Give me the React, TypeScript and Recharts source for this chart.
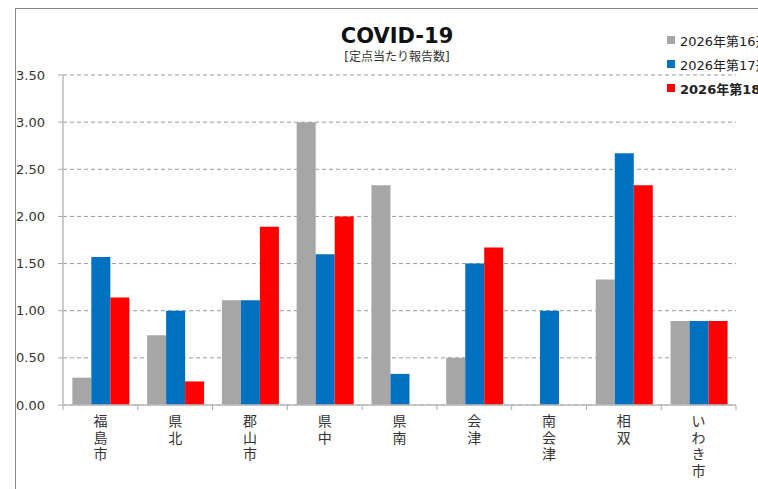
import React from 'react';
import { BarChart, Bar, XAxis, YAxis, CartesianGrid } from 'recharts';

const categories = ['福島市', '県北', '郡山市', '県中', '県南', '会津', '南会津', '相双', 'いわき市'];
const week16 = [0.29, 0.74, 1.11, 3.0, 2.33, 0.5, 0, 1.33, 0.89];
const week17 = [1.57, 1.0, 1.11, 1.6, 0.33, 1.5, 1.0, 2.67, 0.89];
const week18 = [1.14, 0.25, 1.89, 2.0, 0, 1.67, 0, 2.33, 0.89];
const seriesNames = ['2026年第16週', '2026年第17週', '2026年第18週'];
const seriesKeys = ['w16', 'w17', 'w18'];
const seriesColors = ['#a6a6a6', '#0070c0', '#ff0000'];
const yTicks = [0, 0.5, 1.0, 1.5, 2.0, 2.5, 3.0, 3.5];
const titleText = 'COVID-19';
const subtitleText = '[定点当たり報告数]';

const data = categories.map((c, i) => ({
  name: c,
  w16: week16[i],
  w17: week17[i],
  w18: week18[i],
}));

const FONT = '"DejaVu Sans", Verdana, "Noto Sans CJK JP", sans-serif';

const XTick = (props: any) => {
  const { x, y, payload, index, visibleTicksCount } = props;
  const half = payload && typeof payload.offset === 'number' && payload.offset > 0 ? payload.offset : 673 / 18;
  const chars = Array.from(String(payload.value));
  const isLast = index === (visibleTicksCount ?? categories.length) - 1;
  return (
    <g>
      <line x1={x - half} x2={x - half} y1={y} y2={y + 5} stroke="#aaa" strokeWidth={1} />
      {isLast && <line x1={x + half} x2={x + half} y1={y} y2={y + 5} stroke="#aaa" strokeWidth={1} />}
      {chars.map((ch, i) => (
        <text
          key={i}
          x={x}
          y={y + 16 + i * 16.5}
          textAnchor="middle"
          dominantBaseline="central"
          fontSize={14}
          fill="#333"
          fontFamily={FONT}
        >
          {ch}
        </text>
      ))}
    </g>
  );
};

const LegendBox = () => (
  <div
    style={{
      position: 'absolute',
      left: 664,
      top: 28,
      width: 94,
      overflow: 'hidden',
      whiteSpace: 'nowrap',
      fontFamily: FONT,
    }}
  >
    {seriesNames.map((n, i) => (
      <div
        key={n}
        style={{
          display: 'flex',
          alignItems: 'center',
          height: 24,
          fontSize: 13,
          color: '#222',
          fontWeight: i === 2 ? 'bold' : 'normal',
        }}
      >
        <span
          style={{
            display: 'inline-block',
            width: 8,
            height: 8,
            background: seriesColors[i],
            marginLeft: 3,
            marginRight: 5,
            flex: '0 0 auto',
          }}
        />
        <span>{n}</span>
      </div>
    ))}
  </div>
);

export default function App() {
  return (
    <div
      style={{
        position: 'absolute',
        left: 0,
        top: 0,
        width: 758,
        height: 489,
        overflow: 'hidden',
        background: '#fff',
        fontFamily: FONT,
      }}
    >
      <div
        style={{
          position: 'absolute',
          left: 15,
          top: 8,
          width: 760,
          height: 490,
          borderLeft: '1px solid #888',
          borderTop: '1px solid #888',
        }}
      />
      <div
        style={{
          position: 'absolute',
          left: 297,
          width: 200,
          top: 23,
          textAlign: 'center',
          fontSize: 21,
          fontWeight: 'bold',
          color: '#111',
          lineHeight: '27px',
        }}
      >
        {titleText}
      </div>
      <div
        style={{
          position: 'absolute',
          left: 297,
          width: 200,
          top: 49,
          textAlign: 'center',
          fontSize: 12,
          color: '#333',
          lineHeight: '16px',
        }}
      >
        {subtitleText}
      </div>
      <div style={{ position: 'absolute', left: 0, top: 0 }}>
        <BarChart
          width={758}
          height={489}
          data={data}
          margin={{ top: 75, right: 22, bottom: 0, left: 0 }}
          barCategoryGap="12.5%"
          barGap={0}
        >
          <CartesianGrid vertical={false} stroke="#999" strokeDasharray="4 3" />
          <XAxis
            dataKey="name"
            axisLine={{ stroke: '#bbb', strokeWidth: 1.5 }}
            tickLine={false}
            tickSize={0}
            tickMargin={0}
            interval={0}
            tick={<XTick />}
            height={84}
          />
          <YAxis
            width={63}
            domain={[0, 3.5]}
            ticks={yTicks}
            interval={0}
            allowDataOverflow
            tickFormatter={(v: number) => v.toFixed(2)}
            axisLine={{ stroke: '#bbb', strokeWidth: 1.5 }}
            tickLine={{ stroke: '#aaa' }}
            tickSize={5}
            tickMargin={13}
            tick={{ fontSize: 13, fill: '#333', fontFamily: FONT }}
          />
          {seriesKeys.map((k, i) => (
            <Bar key={k} dataKey={k} name={seriesNames[i]} fill={seriesColors[i]} isAnimationActive={false} />
          ))}
        </BarChart>
      </div>
      <LegendBox />
    </div>
  );
}
